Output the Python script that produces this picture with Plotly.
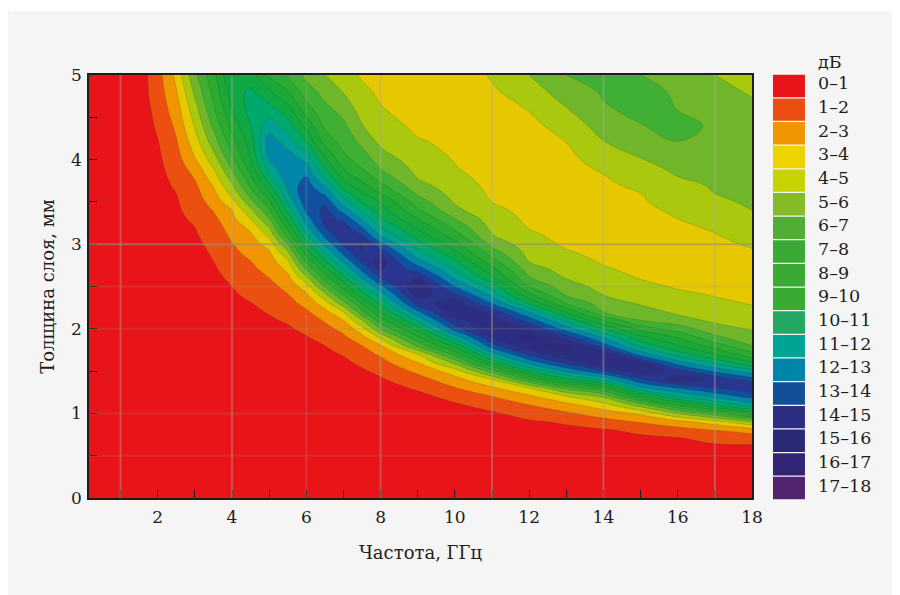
import numpy as np
import plotly.graph_objects as go

frequency = [0.15, 1, 1.5, 2, 2.5, 3, 3.5, 4, 4.5, 5, 5.5, 6, 6.5, 7, 7.5, 8, 9, 10, 11, 12, 13, 14, 15, 16, 17, 18]
thickness = [0, .5, .6, .7, .8, .9, 1, 1.1, 1.2, 1.3, 1.4, 1.5, 1.6, 1.7, 1.8, 1.9, 2, 2.1, 2.2, 2.3, 2.4, 2.5,
             2.6, 2.7, 2.8, 2.9, 3, 3.1, 3.2, 3.3, 3.4, 3.5, 3.6, 3.7, 3.8, 3.9, 4,
             4.2, 4.4, 4.6, 4.8, 5]

# attenuation, dB: one column per frequency, low thickness to high
db_f00 = [.05,.05,.05,.05,.05,.05,.05,.05,.05,.05,.05,.05,.05,.05,.05,.05,.1,.1,.1,.1,.1,.1, .1,.1,.1,.1,.1,.1,.1,.1,.1,.1,.1,.1,.1,.1,.1, .1,.1,.1,.1,.1]
db_f01 = [.05,.1,.1,.1,.1,.1,.1,.1,.1,.1,.1,.1,.1,.1,.1,.1,.1,.1,.1,.1,.2,.2, .2,.2,.2,.2,.2,.2,.2,.2,.2,.2,.2,.2,.2,.2,.2, .2,.2,.3,.3,.3]
db_f15 = [.05,.1,.1,.1,.1,.1,.1,.1,.1,.1,.1,.1,.1,.2,.2,.2,.2,.2,.2,.2,.2,.2, .2,.2,.3,.3,.3,.3,.3,.3,.3,.3,.3,.3,.3,.3,.4, .4,.4,.4,.5,.5]
db_f20 = [.05,.1,.1,.1,.1,.1,.1,.1,.1,.1,.1,.2,.2,.2,.2,.2,.2,.2,.3,.3,.3,.3, .3,.3,.4,.4,.4,.4,.4,.45,.5,.55,.6,.65,.7,.75,.8, .95,1.15,1.35,1.5,1.6]
db_f25 = [.05,.1,.1,.1,.1,.1,.1,.2,.2,.2,.2,.2,.2,.3,.3,.3,.3,.3,.4,.4,.4,.4, .5,.5,.5,.55,.6,.65,.7,.78,.85,.92,1,1.15,1.3,1.45,1.6, 1.9,2.2,2.55,2.9,3.3]
db_f30 = [.05,.1,.1,.1,.1,.2,.2,.2,.2,.2,.3,.3,.3,.3,.4,.4,.4,.4,.5,.5,.5,.6, .6,.65,.7,.78,.85,.92,1,1.17,1.35,1.5,1.65,1.85,2.1,2.45,2.9, 3.5,4.1,4.6,5.2,5.8]
db_f35 = [.05,.1,.1,.1,.2,.2,.2,.2,.2,.3,.3,.3,.3,.4,.4,.4,.5,.5,.5,.5,.6,.7, .8,.9,1,1.08,1.17,1.3,1.5,1.75,2.05,2.4,2.75,3.1,3.55,4,4.5, 5.45,6.2,6.85,7.3,7.7]
db_f40 = [.05,.1,.1,.1,.2,.2,.2,.2,.3,.3,.3,.3,.4,.4,.4,.45,.5,.6,.75,.8,.9,1, 1.15,1.3,1.5,1.75,1.95,2.2,2.45,2.75,3,3.65,4.3,4.9,5.5,6.1,6.65, 7.55,8.35,9,9.55,10.1]
db_f45 = [.05,.1,.1,.2,.2,.2,.2,.3,.3,.3,.4,.4,.4,.5,.5,.6,.7,.8,.85,.97,1.15,1.35, 1.55,1.78,2,2.3,2.55,2.8,3.25,4,4.75,5.6,6.45,7.2,7.85,8.5,9.05, 9.5,10,10.4,10.2,9.4]
db_f50 = [.05,.1,.1,.2,.2,.2,.3,.3,.3,.4,.4,.4,.5,.5,.6,.6,.7,.9,1.05,1.25,1.5,1.7, 2,2.3,2.55,2.85,3.4,4.2,5,6,6.85,7.8,8.8,9.8,10.75,11.45,12, 12.5,11.55,10.4,9.15,7.8]
db_f55 = [.05,.1,.1,.2,.2,.3,.3,.3,.4,.4,.4,.5,.5,.5,.6,.75,.9,1.1,1.3,1.65,1.95,2.3, 2.7,3.2,3.85,4.8,6,7.25,8.3,9.3,10.4,11.2,11.85,12.3,12.7,12.9,12.6, 11.6,10.5,9.35,8.1,6.9]
db_f60 = [.05,.1,.1,.2,.2,.2,.2,.2,.3,.3,.4,.5,.6,.7,.8,.95,1.2,1.5,1.85,2.3,2.8,3.55, 4.7,6,7.25,8.5,9.7,10.8,11.8,12.6,13.2,13.6,13.9,13.5,13,12.4,11.75, 10.1,8.7,7.4,6.5,5.7]
db_f65 = [.05,.1,.1,.2,.2,.2,.2,.3,.3,.3,.4,.5,.7,.85,1,1.3,1.7,2.1,2.7,3.5,4.7,6.1, 7.4,8.6,9.9,11.1,12.2,13.2,14,14.3,14.3,13.8,12.8,11.8,10.8,10,9.2, 7.7,6.8,6.25,5.65,5]
db_f70 = [.05,.1,.1,.1,.2,.2,.2,.3,.3,.4,.5,.7,.85,1.05,1.3,1.8,2.3,3,4,5.6,7,8.4, 9.7,11,12.2,13.3,14.2,14.9,14.5,13.8,12.6,11.5,10.5,9.5,8.6,7.9,7.3, 6.65,6.2,5.65,4.95,4.3]
db_f75 = [.05,.1,.2,.2,.2,.2,.3,.3,.4,.5,.7,.9,1.15,1.6,2,2.7,3.6,5,6.7,8,9.5,10.75, 12,13.2,14.2,15,15.1,14.1,13,11.9,10.8,9.9,9.1,8.3,7.6,7,6.6, 5.8,5.05,4.55,4.2,3.9]
db_f80 = [.05,.1,.2,.2,.2,.3,.3,.4,.5,.7,.9,1.2,1.65,2.15,2.9,4.2,6,7.5,9,10.25,11.5,12.75, 14.1,15,15.5,14.6,13.3,12,11,10.15,9.5,8.95,8,7.2,6.5,5.95,5.5, 4.8,4.4,4.05,3.85,3.7]
db_f90 = [.05,.2,.2,.3,.3,.4,.5,.6,.8,1.1,1.6,2.25,3,4,6.2,7.8,9.5,11.2,12.8,14.4,15.4,15.9, 15,13.6,12.3,11.3,10.4,9.6,8.85,8,7.2,6.5,5.85,5.3,4.9,4.7,4.5, 4.1,3.8,3.65,3.5,3.35]
db_f100 = [.05,.2,.3,.3,.4,.5,.7,.9,1.25,1.95,2.65,3.5,5.25,7.4,9.4,11.4,13.5,14.8,15.8,15.7,14.3,13, 11.85,10.95,10.1,9.25,8.4,7.55,6.75,6,5.25,4.9,4.65,4.45,4.25,4.05,3.95, 3.8,3.65,3.55,3.45,3.4]
db_f110 = [.05,.2,.3,.4,.5,.7,.9,1.3,2,2.85,4,6.5,9.3,11.6,13.6,15,16.1,15.5,14.7,13,11.7,10.6, 9.3,8.4,7.4,6.5,5.7,5.05,4.75,4.5,4.25,4,3.85,3.75,3.65,3.55,3.5, 3.45,3.5,3.65,3.85,4.1]
db_f120 = [.05,.3,.4,.5,.7,.9,1.3,2,2.8,4,7,10,12.4,14.2,15.8,16.4,15,13.6,12,10,8.3,7, 6.1,5.5,4.95,4.7,4.45,4.2,3.95,3.8,3.7,3.6,3.5,3.45,3.4,3.4,3.4, 3.5,3.7,4.05,4.5,5]
db_f130 = [.05,.3,.4,.6,.8,1.1,1.85,2.7,3.9,6.3,9.7,12.2,14.3,16,16.3,14.5,12.5,10.8,8.8,7,5.9,5.4, 4.95,4.6,4.35,4.1,3.85,3.7,3.6,3.5,3.45,3.45,3.45,3.5,3.55,3.65,3.75, 4,4.45,4.95,5.5,6]
db_f140 = [.05,.4,.5,.7,.9,1.6,2.5,3.6,5.2,8,11.3,14,16,15.8,13.5,11.9,10,8,6,5.5,5,4.7, 4.4,4.1,3.9,3.75,3.6,3.55,3.5,3.5,3.55,3.6,3.7,3.8,3.95,4.15,4.4, 4.95,5.4,5.9,6.1,6.3]
db_f150 = [.05,.4,.6,.8,1.2,2.1,3.2,5.5,8.7,11.8,13.8,15.8,15.2,12.6,10.7,9.3,7.6,6,5.45,4.9,4.6,4.25, 3.95,3.8,3.65,3.6,3.55,3.6,3.65,3.7,3.8,3.9,4,4.25,4.5,4.7,4.95, 5.45,5.95,6.25,6.6,6]
db_f160 = [.05,.5,.7,.9,1.6,2.7,5,8,11,13,15.5,14.5,12.5,10.5,9.1,7.9,6.5,5.4,4.8,4.5,4.2,3.9, 3.75,3.65,3.6,3.6,3.65,3.75,3.85,4,4.15,4.35,4.55,4.75,5,5.2,5.45, 5.95,6.5,5.98,5.75,5.5]
db_f170 = [.05,.5,.8,1.3,2,3.5,6.7,10,12.3,14,14.8,12.8,10.8,9,7.5,6.2,5.4,4.8,4.5,4.2,3.95,3.8, 3.7,3.7,3.7,3.75,3.8,3.95,4.1,4.3,4.55,4.8,5,5.1,5.25,5.4,5.5, 5.7,5.75,5.55,5.3,5]
db_f180 = [.05,.5,.8,1.4,2.4,5,8.6,11.6,13.4,14.8,13.6,11.4,9,7.3,6,5.4,4.9,4.5,4.2,3.95,3.8,3.65, 3.6,3.65,3.75,3.9,4.1,4.3,4.55,4.8,5,5.15,5.3,5.4,5.5,5.6,5.65, 5.65,5.4,5.2,4.9,4.6]

db_columns = [db_f00, db_f01, db_f15, db_f20, db_f25, db_f30, db_f35, db_f40, db_f45, db_f50, db_f55, db_f60, db_f65,
              db_f70, db_f75, db_f80, db_f90, db_f100, db_f110, db_f120, db_f130, db_f140, db_f150, db_f160, db_f170, db_f180]
for c in db_columns:
    assert len(c) == len(thickness), len(c)

band_labels = ["0–1", "1–2", "2–3", "3–4", "4–5", "5–6", "6–7", "7–8", "8–9", "9–10", "10–11", "11–12",
               "12–13", "13–14", "14–15", "15–16", "16–17", "17–18"]
plot_colors = ["#e8141a", "#ec5010", "#f09400", "#e6c800", "#a9c80e", "#70b62a", "#40b035", "#2cab32", "#1ca838",
               "#10a845", "#00a86c", "#00a090", "#0086a8", "#1050a0", "#2a3590", "#2d2e83", "#2e2a7d", "#5b2a86"]
legend_colors = ["#e8141a", "#ea4e13", "#f09500", "#efd300", "#c6d300", "#84bb26", "#52ae32", "#3aaa35", "#3aaa35",
                 "#3aaa35", "#22a862", "#00a494", "#0085a8", "#124f96", "#2b2e80", "#2b2a78", "#322576", "#52246f"]
grid_f_strong = [1, 4, 8, 11, 14, 17]
grid_f_faint = [6]
grid_d_strong = [3]
grid_d_faint = [0.5, 1, 2, 2.5]

FONT = "DejaVu Serif"
INK = "#1d1d1b"
z = np.array(db_columns).T

n = len(plot_colors)
scale = []
for i, c in enumerate(plot_colors):
    scale += [[i / n, c], [(i + 1) / n, c]]

fig = go.Figure(go.Contour(
    x=frequency, y=thickness, z=z, zmin=0, zmax=18, colorscale=scale, showscale=False,
    contours=dict(start=0, end=18, size=1, coloring="fill", showlines=True),
    line=dict(width=0.7, color="rgba(30,70,10,0.30)", smoothing=1.2),
    hoverinfo="skip",
))

W, H = 891, 587
L, T, PW, PH = 80.5, 67, 663.5, 423

shapes = []
for v in grid_f_strong + grid_f_faint:
    a = 0.4 if v in grid_f_strong else 0.2
    shapes.append(dict(type="line", xref="x", yref="paper", x0=v, x1=v, y0=0, y1=1, layer="above",
                       line=dict(color=f"rgba(175,170,150,{a})", width=2)))
for v in grid_d_strong + grid_d_faint:
    a = 0.6 if v in grid_d_strong else 0.2
    shapes.append(dict(type="line", xref="paper", yref="y", x0=0, x1=1, y0=v, y1=v, layer="above",
                       line=dict(color=f"rgba(150,145,125,{a})", width=2)))

# white strip above the panel
shapes.append(dict(type="rect", xref="paper", yref="paper", x0=-L / PW, x1=(W - L) / PW,
                   y0=(PH + T - 3) / PH, y1=(PH + T) / PH, fillcolor="white", line_width=0, layer="below"))

X0 = 88.5
annotations = [dict(text="дБ", xref="paper", yref="paper", x=(816 - X0) / PW, y=(498 - 62) / PH,
                    xanchor="left", yanchor="middle", showarrow=False, font=dict(family=FONT, size=17.5, color=INK))]
for i, (lab, col) in enumerate(zip(band_labels, legend_colors)):
    yc = 86 + i * 23.65
    shapes.append(dict(type="rect", xref="paper", yref="paper", x0=(773 - X0) / PW, x1=(805 - X0) / PW,
                       y0=(498 - yc - 11.2) / PH, y1=(498 - yc + 11.2) / PH, fillcolor=col,
                       line=dict(width=0)))
    annotations.append(dict(text=lab, xref="paper", yref="paper", x=(816 - X0) / PW, y=(498 - yc + 2.5) / PH,
                            xanchor="left", yanchor="middle", showarrow=False,
                            font=dict(family=FONT, size=17.5, color=INK)))

axis = dict(showgrid=False, zeroline=False, showline=True, mirror=True, linecolor=INK, linewidth=1.5,
            ticks="inside", ticklen=8, tickwidth=1, tickcolor=INK,
            tickfont=dict(family=FONT, size=17, color=INK))
fig.update_layout(
    width=W, height=H, margin=dict(l=L, r=W - L - PW, t=T, b=H - T - PH, pad=0),
    paper_bgcolor="#f5f5f5", plot_bgcolor="#f5f5f5", showlegend=False,
    shapes=shapes, annotations=annotations,
    xaxis=dict(axis, range=[0.15, 18], ticklabelstandoff=3,
               tickvals=list(range(1, 19)),
               ticktext=[str(v) if v % 2 == 0 else "" for v in range(1, 19)],
               title=dict(text="Частота, ГГц", font=dict(family=FONT, size=18, color=INK), standoff=20)),
    yaxis=dict(axis, range=[0, 5], ticklabelstandoff=2, tickvals=[i / 2 for i in range(11)],
               ticktext=[str(i // 2) if i % 2 == 0 else "" for i in range(11)],
               title=dict(text="Толщина слоя, мм", font=dict(family=FONT, size=18, color=INK), standoff=12)),
)
fig.write_html("out.html")
